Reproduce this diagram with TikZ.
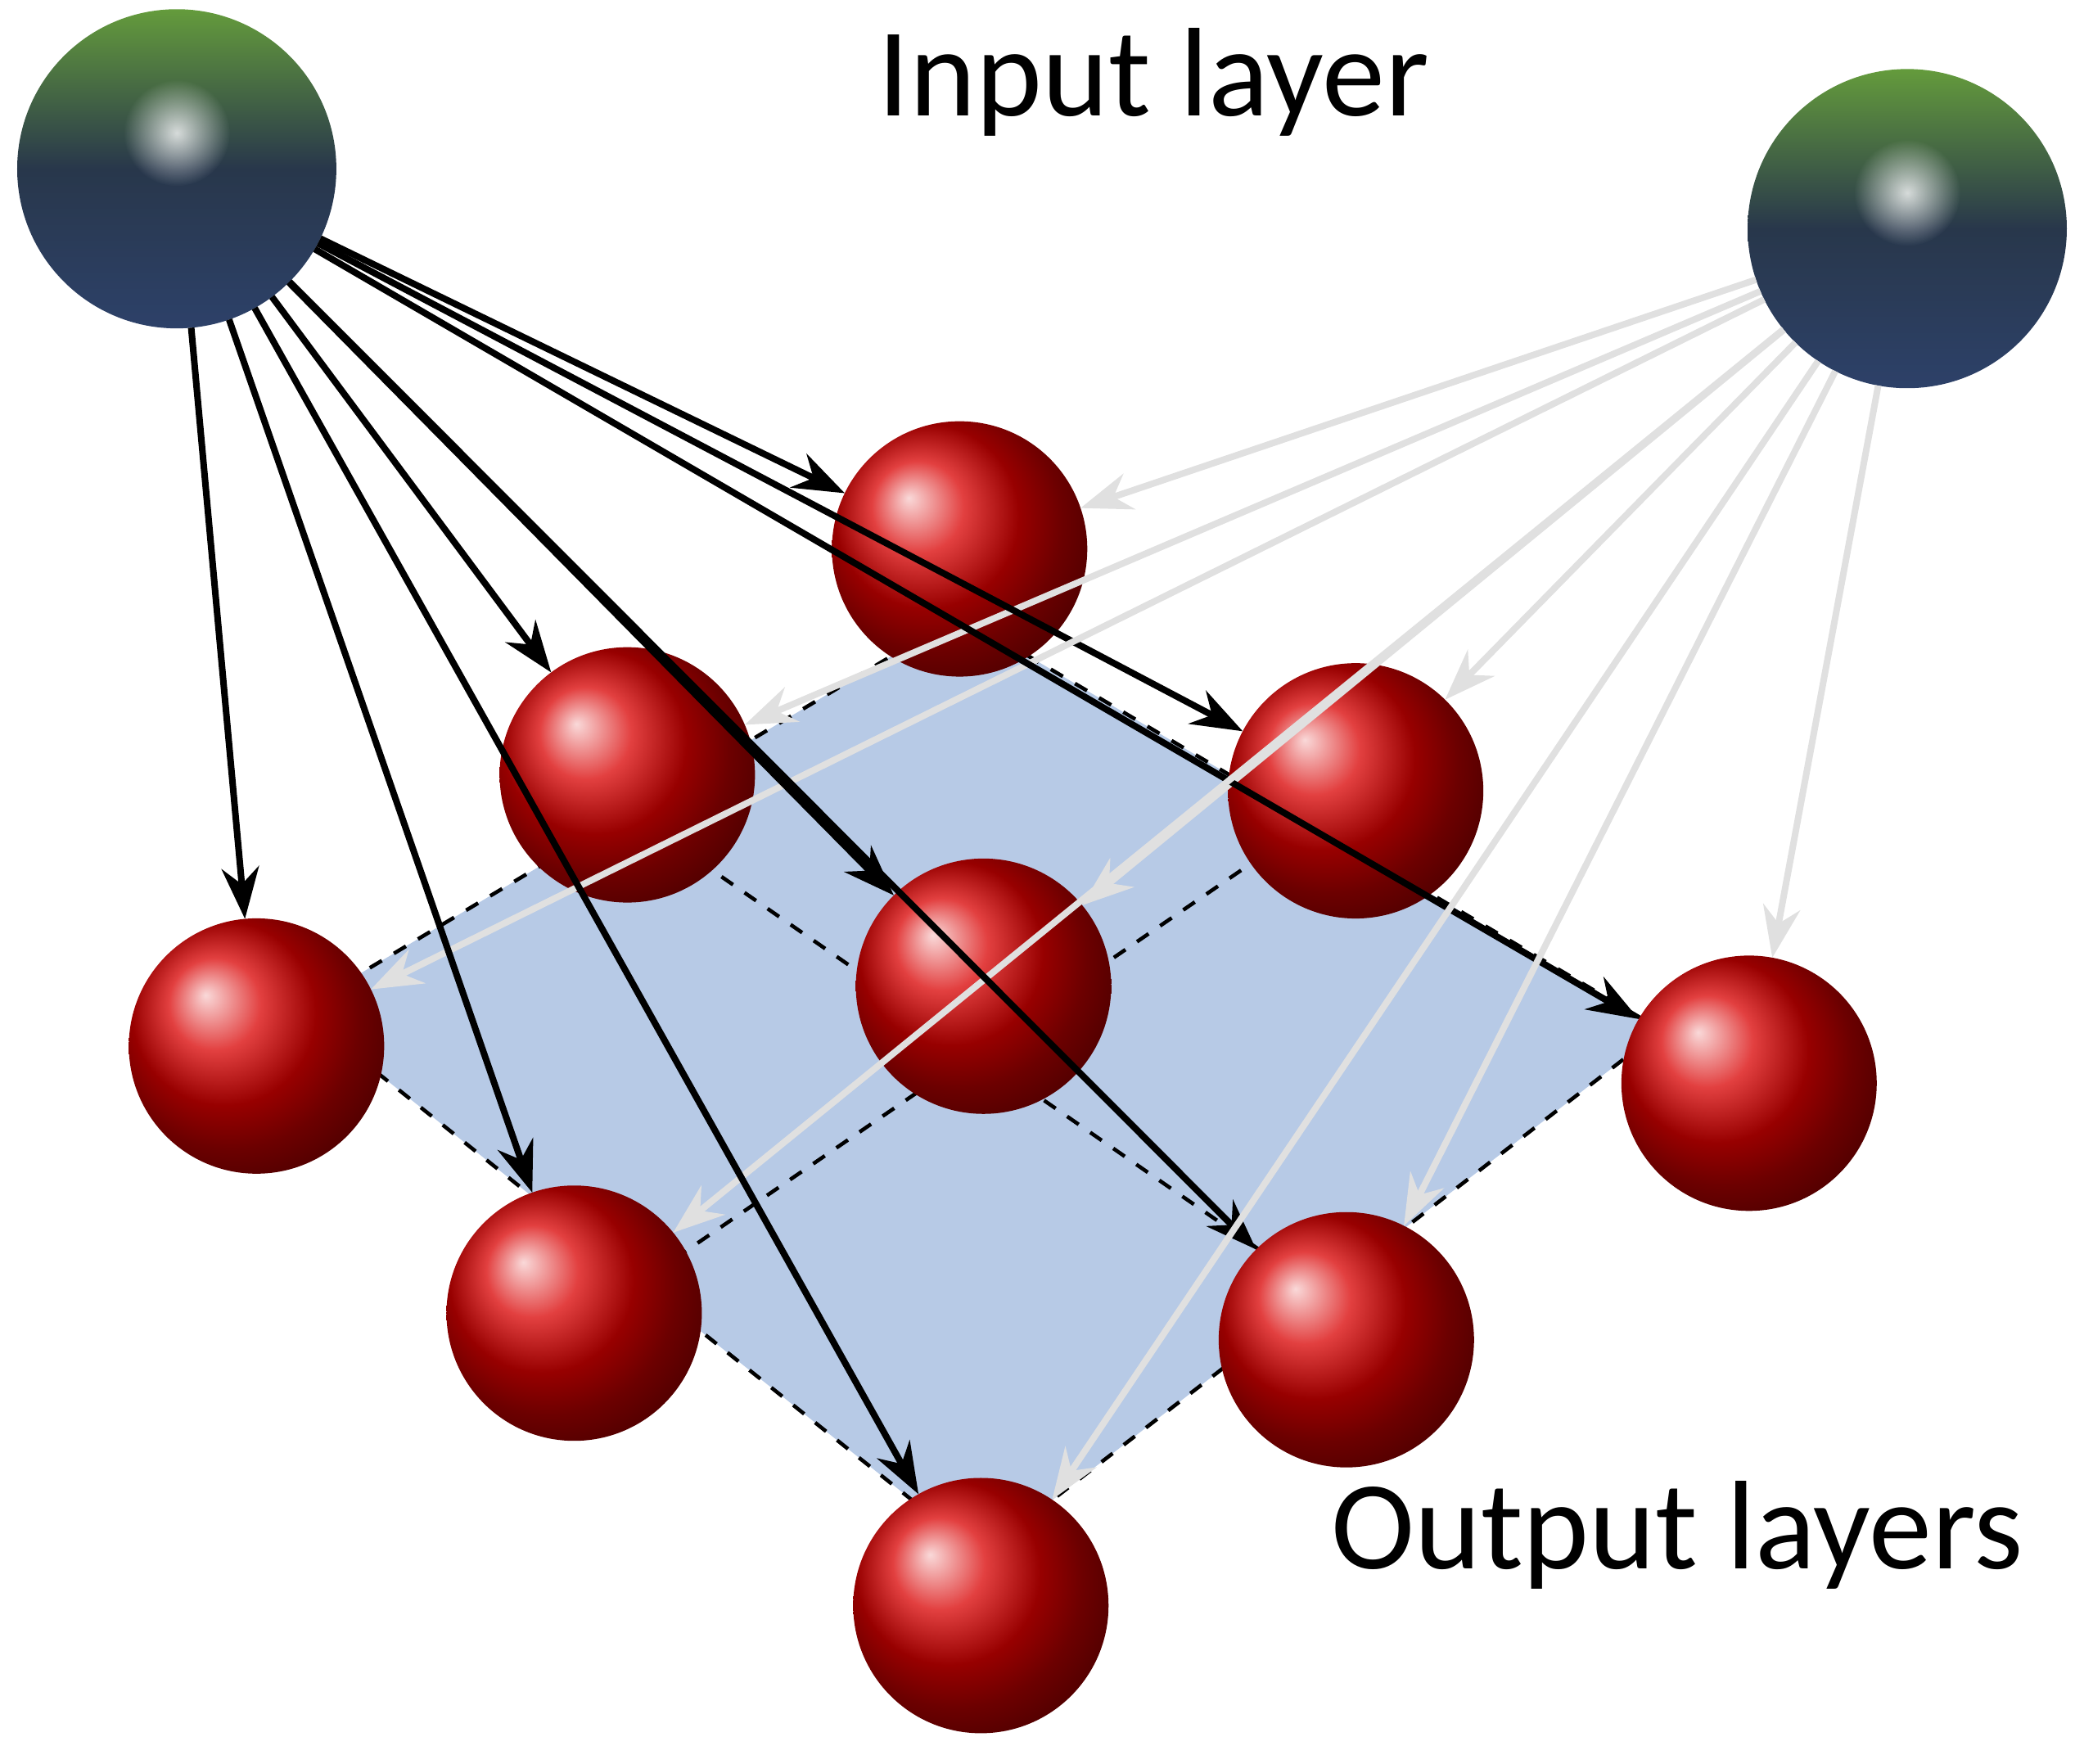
\documentclass[tikz,border=0pt]{standalone}
\usepackage{fontspec}
\setmainfont{Carlito}
\usetikzlibrary{arrows.meta,shadings,calc,fadings}
\definecolor{planec}{RGB}{183,202,230}
\definecolor{topg}{RGB}{100,155,60}
\definecolor{midb}{RGB}{40,55,75}
\definecolor{botb}{RGB}{45,65,105}
\tikzfading[name=glowfade, inner color=transparent!0, outer color=transparent!100]
\tikzset{
 red/.style={circle,minimum size=1.92cm,inner sep=0,outer sep=0,ball color=red!85!black},
 inp/.style={circle,minimum size=2.4cm,inner sep=0,outer sep=0,shading=axis,top color=topg,bottom color=botb,middle color=midb},
 blk/.style={-{Stealth[length=11pt,width=8pt]},line width=1.4pt,black},
 gry/.style={-{Stealth[length=11pt,width=8pt]},line width=1.4pt,black!12},
 dsh/.style={dashed,line width=0.8pt,black},
 lbl/.style={font=\fontsize{27}{30}\selectfont}
}
\begin{document}
\begin{tikzpicture}[x=0.01cm,y=-0.01cm]
\useasboundingbox (0,0) rectangle (1568,1327);
\coordinate (P1) at (722,463);
\coordinate (P4) at (225,760);
\coordinate (P6) at (1250,775);
\coordinate (P9) at (738,1170);
\fill[planec] (P1)--(P4)--(P9)--(P6)--cycle;
\draw[dsh] (P1)--(P4)--(P9)--(P6)--cycle;
\draw[dsh] ($(P1)!0.5!(P4)$)--($(P6)!0.5!(P9)$);
\draw[dsh] ($(P1)!0.5!(P6)$)--($(P4)!0.5!(P9)$);
\node[inp] (A) at (133,127) {};
\node[inp] (B) at (1435,172) {};
\fill[white,opacity=0.8,path fading=glowfade] (133,100) circle (0.4cm);
\fill[white,opacity=0.8,path fading=glowfade] (1435,145) circle (0.4cm);
\node[red] (R1) at (722,413) {};
\node[red] (R2) at (472,583) {};
\node[red] (R3) at (1020,595) {};
\node[red] (R4) at (193,787) {};
\node[red] (R5) at (740,742) {};
\node[red] (R6) at (1316,815) {};
\node[red] (R7) at (432,988) {};
\node[red] (R8) at (1013,1008) {};
\node[red] (R9) at (738,1208) {};
\foreach \r in {R1,R2,R3,R4,R5,R6,R7,R8,R9}{
 \draw[gry] (B) -- (\r);
 \draw[blk] (A) -- (\r);
}
\node[lbl] (t1) at (868,62) {Input layer};
\node[lbl] (t2) at (1262,1155) {Output layers};
\end{tikzpicture}
\end{document}
